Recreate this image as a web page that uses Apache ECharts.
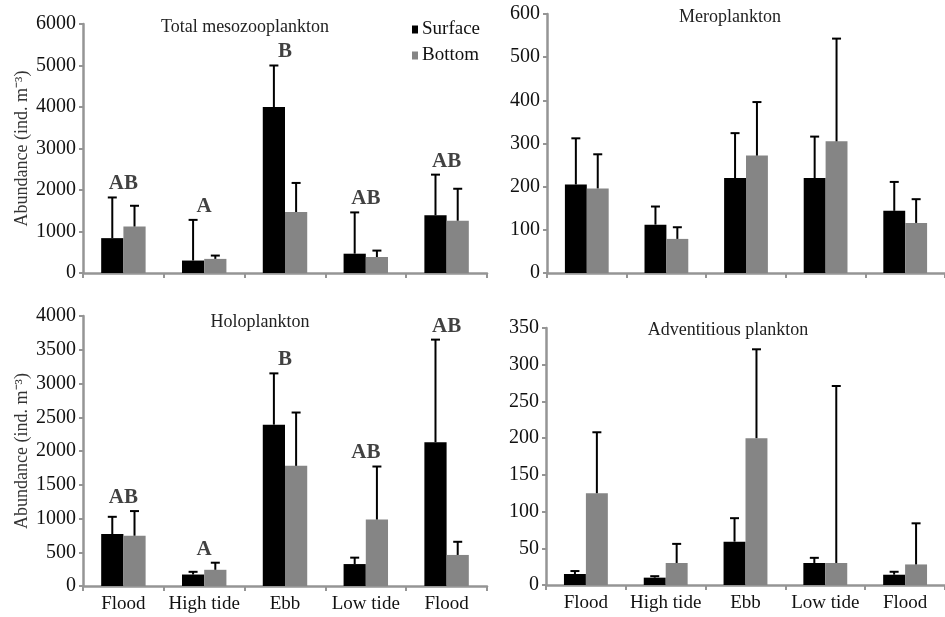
<!DOCTYPE html>
<html>
<head>
<meta charset="utf-8">
<script src="https://cdn.jsdelivr.net/npm/echarts@6/dist/echarts.min.js"></script>
<style>html,body{margin:0;padding:0;background:#fff}#c{width:945px;height:617px}</style>
</head>
<body>
<div id="c"></div>
<script>
var categories = ['Flood', 'High tide', 'Ebb', 'Low tide', 'Flood'];

var totalSurface = [840, 300, 4000, 465, 1390];
var totalSurfaceErr = [980, 980, 1000, 995, 980];
var totalBottom = [1120, 340, 1470, 385, 1260];
var totalBottomErr = [500, 80, 700, 155, 770];
var totalLetters = ['AB', 'A', 'B', 'AB', 'AB'];

var meroSurface = [205, 112, 220, 220, 144];
var meroSurfaceErr = [107, 42, 104, 96, 67];
var meroBottom = [196, 79, 272, 305, 116];
var meroBottomErr = [79, 27, 124, 238, 55];

var holoSurface = [770, 170, 2390, 325, 2130];
var holoSurfaceErr = [255, 40, 760, 95, 1520];
var holoBottom = [745, 240, 1780, 985, 460];
var holoBottomErr = [365, 105, 790, 785, 195];
var holoLetters = ['AB', 'A', 'B', 'AB', 'AB'];

var advSurface = [15, 10, 59, 30, 14];
var advSurfaceErr = [4, 2, 32, 7, 4];
var advBottom = [125, 30, 200, 30, 28];
var advBottomErr = [83, 26, 121, 241, 56];

var yTicks = {
  total: {max: 6000, interval: 1000},
  mero: {max: 600, interval: 100},
  holo: {max: 4000, interval: 500},
  adv: {max: 350, interval: 50}
};

var FONT = '"Liberation Serif", "Times New Roman", serif';
var AXIS_GRAY = '#959595';
var BAR_GRAY = '#858585';
var BAR_FRAC = 0.275;

var grids = [
  {left: 83, top: 24, width: 404, height: 249},
  {left: 547, top: 14, width: 404, height: 259},
  {left: 83, top: 316, width: 404, height: 270},
  {left: 546, top: 328, width: 404, height: 257}
];

function xAxis(i, showLabels) {
  return {
    type: 'category', gridIndex: i, data: categories,
    axisLine: {lineStyle: {color: AXIS_GRAY, width: 2.5}},
    axisTick: {show: true, length: 5, lineStyle: {color: AXIS_GRAY, width: 2}},
    axisLabel: {show: showLabels, color: '#111', fontFamily: FONT, fontSize: 19, margin: 9, interval: 0},
    splitLine: {show: false}
  };
}
function yAxis(i, t, named) {
  var a = {
    type: 'value', gridIndex: i, min: 0, max: t.max, interval: t.interval,
    axisLine: {show: true, lineStyle: {color: AXIS_GRAY, width: 2.5}},
    axisTick: {show: true, length: 4, lineStyle: {color: AXIS_GRAY, width: 2}},
    axisLabel: {color: '#111', fontFamily: FONT, fontSize: 20, margin: 7,
      formatter: function (v) { return String(v); }},
    splitLine: {show: false}
  };
  if (named) {
    a.name = 'Abundance (ind. m\u207B\u00B3)';
    a.nameLocation = 'middle';
    a.nameGap = 52;
    a.nameTextStyle = {color: '#333', fontFamily: FONT, fontSize: 18};
  }
  return a;
}

function barSeries(name, i, data, color) {
  return {
    name: name, type: 'bar', xAxisIndex: i, yAxisIndex: i, data: data,
    barWidth: (BAR_FRAC * 100) + '%', barGap: '0%',
    itemStyle: {color: color}, silent: true
  };
}

function errSeries(i, means, errs, side) {
  var data = means.map(function (m, k) { return [k, m, m + errs[k]]; });
  return {
    type: 'custom', xAxisIndex: i, yAxisIndex: i, data: data, silent: true, z: 5,
    renderItem: function (params, api) {
      var k = api.value(0);
      var p0 = api.coord([k, api.value(1)]);
      var p1 = api.coord([k, api.value(2)]);
      var bw = api.size([1, 0])[0] * BAR_FRAC;
      var x = p0[0] + side * bw / 2;
      var cap = 4.5;
      return {
        type: 'group',
        children: [
          {type: 'line', shape: {x1: x, y1: p0[1], x2: x, y2: p1[1]}, style: {stroke: '#000', lineWidth: 2}},
          {type: 'line', shape: {x1: x - cap, y1: p1[1], x2: x + cap, y2: p1[1]}, style: {stroke: '#000', lineWidth: 2}}
        ]
      };
    }
  };
}

function letterSeries(i, letters, s, se, b, be) {
  var data = letters.map(function (l, k) {
    return {value: [k, Math.max(s[k] + se[k], b[k] + be[k])], label: {formatter: l}};
  });
  return {
    type: 'scatter', xAxisIndex: i, yAxisIndex: i, data: data, symbolSize: 0, silent: true,
    label: {show: true, position: 'top', distance: 3, color: '#111', fontFamily: FONT, fontSize: 21, fontWeight: 'bold'}
  };
}

var panels = [
  {s: totalSurface, se: totalSurfaceErr, b: totalBottom, be: totalBottomErr, letters: totalLetters},
  {s: meroSurface, se: meroSurfaceErr, b: meroBottom, be: meroBottomErr},
  {s: holoSurface, se: holoSurfaceErr, b: holoBottom, be: holoBottomErr, letters: holoLetters},
  {s: advSurface, se: advSurfaceErr, b: advBottom, be: advBottomErr}
];

var series = [];
panels.forEach(function (p, i) {
  series.push(barSeries('Surface', i, p.s, '#000'));
  series.push(barSeries('Bottom', i, p.b, BAR_GRAY));
  series.push(errSeries(i, p.s, p.se, -1));
  series.push(errSeries(i, p.b, p.be, 1));
  if (p.letters) series.push(letterSeries(i, p.letters, p.s, p.se, p.b, p.be));
});

var titles = [
  {text: 'Total mesozooplankton', x: 245, y: 27},
  {text: 'Meroplankton', x: 730, y: 17},
  {text: 'Holoplankton', x: 260, y: 322},
  {text: 'Adventitious plankton', x: 728, y: 330}
];

var chart = echarts.init(document.getElementById('c'), null, {renderer: 'canvas'});
chart.setOption({
  animation: false,
  backgroundColor: '#fff',
  grid: grids,
  xAxis: [xAxis(0, false), xAxis(1, false), xAxis(2, true), xAxis(3, true)],
  yAxis: [yAxis(0, yTicks.total, true), yAxis(1, yTicks.mero, false), yAxis(2, yTicks.holo, true), yAxis(3, yTicks.adv, false)],
  legend: {
    data: ['Surface', 'Bottom'], orient: 'vertical', left: 407, top: 15,
    itemWidth: 6, itemHeight: 8, itemGap: 7, icon: 'rect', selectedMode: false,
    textStyle: {color: '#111', fontFamily: FONT, fontSize: 19, padding: [0, 0, 0, -1]}
  },
  graphic: titles.map(function (t) {
    return {type: 'text', x: t.x, y: t.y, silent: true,
      style: {text: t.text, fill: '#222', font: '18px ' + FONT, textAlign: 'center', textVerticalAlign: 'middle'}};
  }),
  series: series
});
</script>
</body>
</html>
